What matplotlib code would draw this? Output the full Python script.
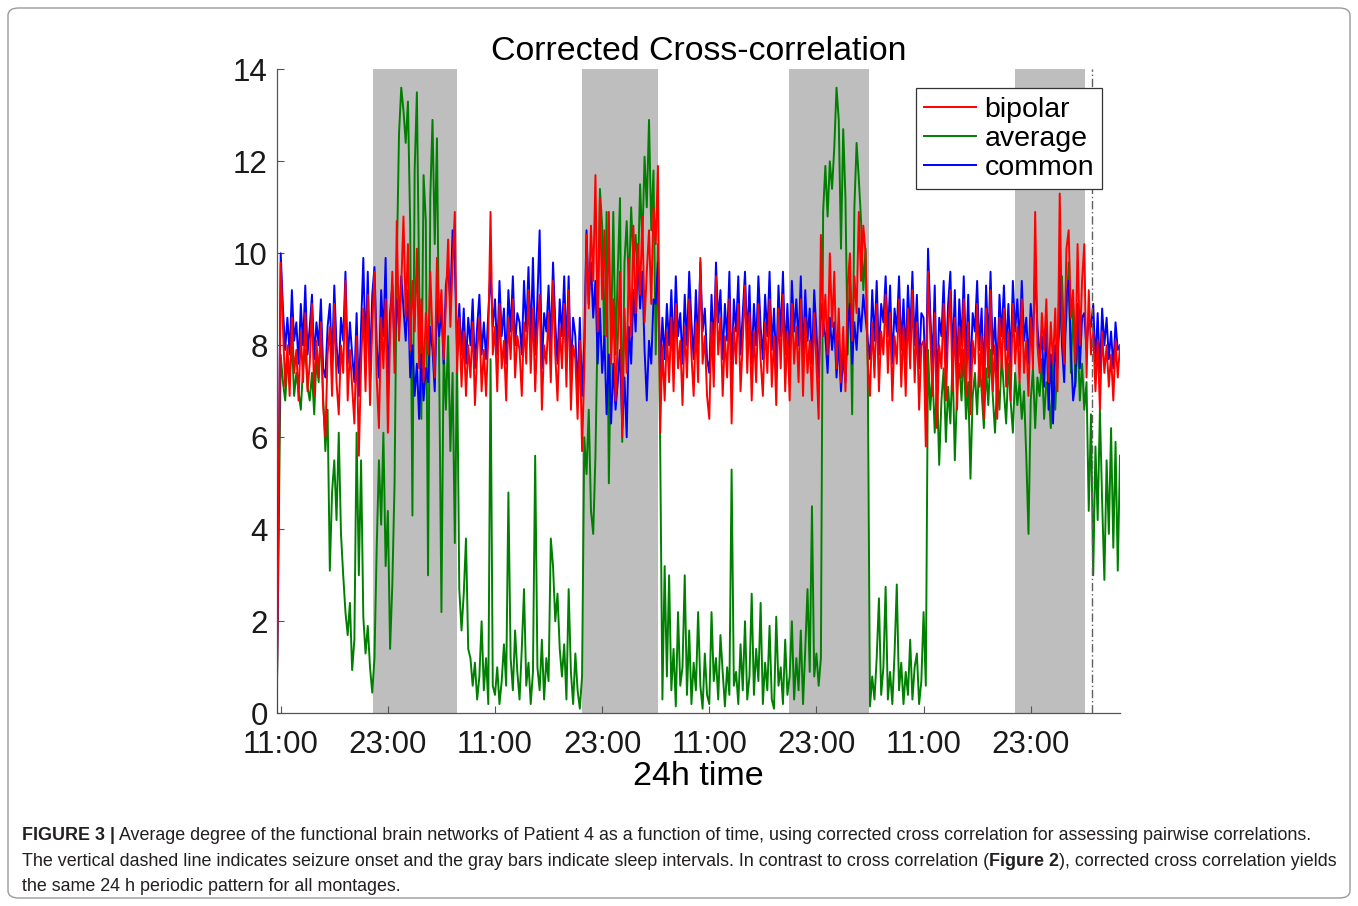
import numpy as np
import matplotlib
matplotlib.use("Agg")
import matplotlib.pyplot as plt
from matplotlib.patches import FancyBboxPatch
from matplotlib.lines import Line2D

plt.rcParams["font.family"] = ["Liberation Sans", "DejaVu Sans"]

# time in hours after 11:00 on day 1, one sample every 15 min
# (first sample sits just before 11:00)
hours = np.concatenate([[-0.45], np.arange(0, 94.01, 0.25)])

# values, 6 h per line
bipolar = [0.0,
    9.8, 8.4, 7.1, 8.0, 6.9, 8.6, 7.4, 7.9, 6.8, 8.3, 7.2, 8.7, 7.0, 7.6, 8.9, 6.9, 8.1, 7.3, 8.5, 6.7, 6.0, 7.8, 8.4, 6.9,
    8.9, 7.2, 6.5, 8.0, 7.4, 9.4, 6.8, 7.9, 7.1, 6.3, 8.2, 5.6, 7.6, 8.8, 7.0, 9.1, 6.7, 8.4, 9.6, 7.3, 6.2, 8.6, 7.5, 9.0,
    6.1, 8.2, 9.6, 7.4, 10.7, 8.1, 9.3, 10.8, 8.6, 10.2, 7.9, 9.4, 8.3, 10.1, 7.5, 9.0, 7.2, 8.7, 7.8, 9.6, 8.2, 7.3, 9.9, 8.5,
    9.2, 7.7, 8.9, 10.3, 8.4, 9.8, 10.9, 7.4, 8.6, 7.1, 8.3, 6.9, 8.0, 7.3, 8.5, 6.7, 7.8, 8.6, 7.0, 7.9, 6.9, 8.2, 10.9, 7.8,
    8.4, 7.0, 8.9, 7.5, 8.1, 6.8, 8.6, 7.7, 9.0, 7.3, 8.2, 7.9, 6.9, 8.5, 7.6, 9.2, 7.4, 8.8, 7.0, 8.3, 9.1, 6.6, 8.0, 7.6,
    8.7, 7.2, 9.4, 7.8, 6.8, 8.4, 7.5, 8.9, 7.1, 9.2, 6.6, 8.0, 7.7, 6.4, 8.1, 5.7, 7.5, 10.4, 8.8, 10.6, 9.4, 11.7, 8.3, 11.2,
    9.0, 10.5, 8.2, 10.9, 7.6, 9.0, 6.8, 8.1, 9.6, 6.0, 8.8, 7.4, 9.9, 8.2, 10.6, 8.7, 10.2, 9.1, 10.8, 8.5, 9.6, 10.5, 8.9, 11.0,
    10.2, 11.9, 6.1, 8.0, 6.8, 8.3, 7.2, 8.6, 7.0, 8.9, 7.5, 8.1, 6.7, 8.4, 7.3, 9.0, 7.8, 6.9, 8.5, 7.2, 9.9, 7.6, 8.2, 6.9,
    6.4, 8.5, 7.1, 9.5, 7.8, 8.6, 6.9, 8.2, 7.3, 9.0, 6.3, 8.4, 7.6, 8.9, 7.0, 8.1, 9.3, 7.4, 8.7, 6.8, 8.3, 7.2, 8.9, 7.7,
    6.9, 8.5, 7.4, 9.0, 7.1, 8.2, 6.7, 8.8, 7.5, 9.1, 7.0, 8.3, 6.8, 8.9, 7.6, 8.4, 7.2, 9.0, 6.9, 8.6, 7.4, 8.1, 6.8, 8.7,
    7.6, 6.4, 10.4, 8.2, 9.1, 7.8, 10.0, 8.4, 9.6, 7.5, 8.8, 7.2, 8.4, 7.0, 9.3, 10.0, 8.1, 9.5, 8.7, 10.9, 9.4, 10.6, 10.0, 7.6,
    6.9, 8.5, 7.3, 8.9, 7.0, 8.3, 7.8, 9.1, 7.4, 8.7, 6.8, 8.2, 7.6, 9.0, 7.1, 8.4, 6.9, 8.8, 7.5, 9.2, 7.2, 8.5, 6.6, 8.0,
    8.1, 5.8, 9.6, 8.2, 6.9, 8.7, 6.2, 8.0, 7.5, 8.9, 6.8, 8.3, 9.2, 7.0, 8.6, 6.6, 8.4, 7.3, 9.0, 6.9, 8.5, 6.5, 8.1, 7.6,
    8.9, 7.1, 8.2, 6.4, 8.8, 7.3, 9.2, 7.0, 8.0, 6.4, 8.6, 7.5, 8.8, 7.1, 8.3, 6.8, 8.9, 7.6, 8.4, 7.2, 9.0, 7.4, 8.1, 6.9,
    8.6, 7.5, 10.9, 8.0, 7.4, 8.7, 7.9, 9.0, 7.2, 8.5, 7.6, 8.8, 7.0, 11.3, 8.4, 7.6, 10.1, 10.5, 8.6, 9.2, 7.6, 10.2, 8.0, 9.4,
    10.2, 7.3, 9.2, 7.8, 8.3, 7.0, 8.1, 6.6, 8.3, 7.4, 8.0, 7.1, 7.8, 6.8, 8.1, 7.3, 8.0]

average = [0.0,
    7.8, 7.2, 6.8, 7.6, 7.3, 8.1, 6.9, 7.4, 7.0, 6.6, 7.5, 7.9, 7.1, 6.8, 7.4, 6.5, 7.7, 7.2, 8.3, 6.9, 5.7, 6.6, 3.1, 4.8,
    5.5, 4.2, 6.1, 3.9, 3.0, 2.2, 1.7, 2.4, 0.94, 1.6, 6.1, 3.0, 5.5, 2.1, 1.3, 1.9, 1.0, 0.45, 1.2, 3.6, 5.5, 4.1, 6.1, 3.2,
    4.4, 1.4, 2.8, 5.0, 9.8, 12.6, 13.6, 13.1, 12.4, 13.3, 10.6, 4.3, 11.8, 13.5, 9.4, 6.4, 11.7, 10.7, 3.0, 11.2, 12.9, 10.2, 12.5, 7.5,
    2.2, 7.9, 6.6, 8.2, 5.7, 7.4, 3.7, 7.8, 2.7, 1.8, 2.6, 3.8, 1.4, 1.2, 0.6, 1.1, 0.3, 0.8, 2.0, 0.5, 1.2, 0.2, 7.7, 0.6,
    0.4, 1.0, 0.2, 0.7, 1.5, 0.6, 4.8, 1.2, 0.5, 1.8, 0.9, 0.3, 1.4, 2.7, 0.6, 1.1, 0.2, 0.9, 5.6, 1.0, 0.5, 1.6, 0.3, 1.2,
    0.7, 3.8, 3.2, 2.0, 2.6, 1.4, 0.8, 1.5, 0.3, 2.7, 0.9, 0.2, 1.3, 0.5, 0.1, 0.8, 6.0, 5.2, 6.6, 4.4, 3.9, 5.6, 8.5, 11.4,
    10.6, 7.8, 10.9, 5.0, 8.1, 10.9, 7.8, 9.6, 11.2, 5.9, 9.8, 10.7, 9.2, 11.0, 9.8, 10.4, 9.4, 11.5, 10.2, 12.1, 11.0, 12.9, 10.5, 11.8,
    7.8, 10.2, 5.8, 0.3, 3.2, 0.8, 3.0, 0.5, 1.4, 0.15, 2.2, 0.6, 1.0, 3.0, 0.4, 1.8, 0.2, 1.1, 0.5, 2.2, 0.6, 0.1, 1.3, 0.4,
    0.2, 2.2, 0.7, 1.2, 0.3, 1.7, 0.9, 0.15, 1.0, 0.4, 5.3, 0.6, 0.9, 0.2, 1.5, 0.5, 2.0, 0.3, 0.8, 2.6, 0.4, 1.4, 0.7, 2.4,
    0.2, 1.1, 0.5, 1.9, 0.3, 0.1, 2.1, 0.6, 1.0, 0.2, 1.6, 0.4, 0.8, 2.0, 0.3, 1.2, 0.5, 1.8, 0.2, 1.4, 2.7, 0.9, 4.5, 0.8,
    1.3, 0.6, 1.2, 10.9, 11.9, 10.8, 12.0, 11.4, 12.3, 13.6, 12.9, 10.1, 12.7, 11.2, 7.8, 9.5, 6.5, 11.0, 12.4, 11.6, 10.7, 9.2, 10.1, 7.5,
    0.15, 0.8, 0.3, 1.2, 2.5, 0.4, 1.0, 2.75, 0.3, 0.9, 0.2, 1.3, 2.8, 0.5, 1.1, 0.2, 0.9, 0.4, 1.6, 0.3, 1.0, 1.3, 0.2, 0.7,
    2.2, 0.6, 7.9, 6.6, 7.4, 6.1, 7.2, 5.4, 6.8, 7.5, 5.9, 7.1, 6.3, 7.7, 5.5, 7.0, 7.6, 6.8, 7.9, 6.4, 7.2, 5.1, 6.9, 7.4,
    6.5, 7.8, 7.0, 6.2, 7.5, 6.7, 7.9, 6.9, 6.1, 7.3, 6.6, 7.8, 7.0, 6.3, 7.6, 6.8, 6.1, 7.4, 6.7, 7.2, 6.4, 7.0, 5.6, 3.9,
    6.8, 7.5, 6.2, 7.3, 6.9, 7.7, 6.4, 7.2, 7.0, 6.2, 7.6, 6.6, 7.8, 8.4, 9.5, 8.0, 8.6, 9.8, 7.4, 8.9, 7.1, 8.3, 6.8, 7.6,
    6.6, 7.2, 4.4, 6.5, 3.0, 5.8, 4.2, 6.6, 4.6, 2.9, 5.5, 3.9, 6.2, 3.6, 5.9, 3.1, 5.6]

common = [0.0,
    10.0, 8.8, 7.9, 8.6, 7.8, 9.2, 8.1, 8.5, 7.6, 8.9, 8.0, 9.3, 7.8, 8.4, 9.1, 7.7, 8.5, 8.0, 9.0, 7.5, 7.3, 8.4, 8.9, 7.6,
    9.3, 8.0, 7.4, 8.6, 8.1, 9.6, 7.6, 8.5, 7.8, 7.2, 8.7, 6.9, 8.4, 9.9, 7.8, 9.6, 7.5, 9.1, 9.7, 8.0, 7.3, 9.2, 8.2, 9.9,
    7.0, 8.7, 9.3, 7.9, 9.0, 8.4, 9.5, 8.8, 8.1, 9.2, 7.3, 8.0, 6.9, 7.6, 6.4, 7.8, 6.8, 7.5, 7.2, 8.4, 7.9, 7.0, 9.0, 8.2,
    8.8, 7.6, 9.3, 9.7, 8.9, 10.5, 9.8, 7.9, 8.9, 7.8, 8.8, 7.6, 8.6, 8.0, 9.0, 7.5, 8.4, 9.1, 7.8, 8.5, 7.7, 8.7, 9.6, 8.4,
    9.0, 7.8, 9.4, 8.2, 8.8, 7.6, 9.2, 8.3, 9.5, 8.0, 8.7, 8.5, 7.8, 9.4, 8.3, 9.7, 8.1, 9.9, 7.8, 9.0, 10.5, 7.5, 8.7, 8.3,
    9.3, 8.0, 9.8, 8.5, 7.6, 9.0, 8.2, 9.5, 7.9, 9.5, 7.4, 8.6, 8.2, 7.0, 8.6, 6.9, 8.1, 10.5, 8.9, 9.8, 8.6, 9.4, 7.6, 8.8,
    7.4, 8.2, 6.5, 7.8, 6.3, 7.6, 6.6, 7.2, 7.9, 6.2, 7.3, 6.0, 8.4, 7.6, 9.2, 8.3, 10.0, 8.8, 9.6, 7.9, 6.8, 8.1, 7.6, 9.0,
    8.9, 9.8, 7.4, 8.6, 7.7, 8.9, 8.0, 9.2, 7.8, 9.5, 8.2, 8.7, 7.6, 9.1, 8.0, 9.6, 8.5, 7.7, 9.2, 8.0, 9.8, 8.3, 8.8, 7.7,
    7.4, 9.1, 7.9, 9.8, 8.5, 9.2, 7.7, 8.9, 8.1, 9.6, 7.3, 9.0, 8.3, 9.5, 7.8, 8.7, 9.6, 8.1, 9.3, 7.6, 8.9, 8.0, 9.5, 8.4,
    7.7, 9.1, 8.2, 9.6, 7.9, 8.8, 7.5, 9.3, 8.2, 9.6, 7.8, 8.9, 7.6, 9.4, 8.3, 9.0, 8.0, 9.5, 7.7, 9.2, 8.1, 8.8, 7.6, 9.2,
    8.3, 7.3, 8.9, 8.5, 8.2, 7.4, 8.6, 7.9, 8.5, 7.3, 8.1, 7.0, 7.8, 7.2, 8.4, 8.9, 7.6, 8.5, 7.9, 8.8, 8.3, 9.1, 8.6, 8.1,
    7.7, 9.2, 8.1, 9.4, 7.8, 8.9, 8.5, 9.5, 8.2, 9.3, 7.6, 8.8, 8.3, 9.5, 7.9, 9.0, 7.7, 9.3, 8.2, 9.6, 8.0, 9.1, 7.5, 8.7,
    8.6, 7.0, 10.1, 8.7, 7.6, 9.3, 7.0, 8.6, 8.2, 9.4, 7.6, 8.9, 9.6, 7.7, 9.2, 7.4, 9.0, 8.0, 9.5, 7.7, 9.1, 7.3, 8.7, 8.3,
    9.4, 7.9, 8.8, 7.2, 9.3, 8.0, 9.6, 7.8, 8.6, 7.3, 9.1, 8.2, 9.3, 7.9, 8.9, 7.6, 9.4, 8.3, 9.0, 8.0, 9.4, 8.1, 8.6, 7.6,
    8.9, 8.1, 9.7, 8.4, 7.8, 8.2, 7.1, 8.5, 6.6, 7.8, 6.3, 8.0, 7.5, 9.8, 8.0, 7.2, 9.1, 9.4, 7.9, 6.8, 7.2, 8.9, 7.5, 8.6,
    8.7, 7.9, 8.6, 8.4, 8.9, 7.6, 8.7, 7.4, 8.8, 8.0, 8.6, 7.7, 8.3, 7.5, 8.5, 7.9, 8.0]

# sleep intervals (gray bars) and seizure onset, in hours
sleep_start = [10.37, 33.7, 56.9, 82.2]
sleep_end = [19.7, 42.3, 65.9, 90.1]
seizure_onset = 90.9

tick_hours = [0, 12, 24, 36, 48, 60, 72, 84]
tick_labels = ["11:00", "23:00", "11:00", "23:00", "11:00", "23:00", "11:00", "23:00"]

W, H = 1358, 906
fig = plt.figure(figsize=(W / 100, H / 100), dpi=100)

# rounded frame around the whole figure
frame = FancyBboxPatch((8 / W, 8 / H), 1342 / W, 890 / H,
                       boxstyle="round,pad=0,rounding_size=0.008",
                       transform=fig.transFigure, fill=False,
                       edgecolor="#9a9a9a", linewidth=1.0)
fig.patches.append(frame)

ax = fig.add_axes([276.7 / W, 1 - 713.3 / H, (1120 - 276.7) / W, (713.3 - 69.3) / H])

for s, e in zip(sleep_start, sleep_end):
    ax.axvspan(s, e, color="#bebebe", lw=0, zorder=0)

ax.plot(hours, average, color="#008000", lw=1.4, zorder=2)
ax.plot(hours, common, color="#0000ff", lw=1.4, zorder=3)
ax.plot(hours, bipolar, color="#ff0000", lw=1.4, zorder=4)
ax.axvline(seizure_onset, color="#606060", lw=1.0, ls=(0, (6, 2, 1, 2)), zorder=5)

ax.set_xlim(-0.45, 94.0)
ax.set_ylim(0, 14)
ax.set_xticks(tick_hours)
ax.set_xticklabels(tick_labels)
ax.set_yticks(range(0, 15, 2))

for side in ["top", "right"]:
    ax.spines[side].set_visible(False)
for side in ["left", "bottom"]:
    ax.spines[side].set_color("#555555")
    ax.spines[side].set_linewidth(0.9)

ax.tick_params(direction="in", length=5, width=0.8, color="#555555",
               labelsize=22.5, labelcolor="#1a1a1a")
ax.tick_params(axis="x", pad=12)
ax.tick_params(axis="y", pad=6.5)

ax.set_title("Corrected Cross-correlation", fontsize=24.4, pad=7)
ax.set_xlabel("24h time", fontsize=24.5, labelpad=1)

handles = [Line2D([], [], color="#ff0000", lw=1.4),
           Line2D([], [], color="#008000", lw=1.4),
           Line2D([], [], color="#0000ff", lw=1.4)]
leg = ax.legend(handles, ["bipolar", "average", "common"],
                loc="upper left", bbox_to_anchor=(0.758, 0.9705),
                fontsize=20.5, frameon=True, fancybox=False, framealpha=1,
                edgecolor="#333333", borderpad=0.3, borderaxespad=0,
                handlelength=1.8, handletextpad=0.3, labelspacing=0.1)
leg.get_frame().set_linewidth(0.9)

# caption with bold runs
renderer = fig.canvas.get_renderer()
cap_size = 12.9
cap_color = "#231f20"
lines = [
    [("FIGURE 3 |", "bold"),
     (" Average degree of the functional brain networks of Patient 4 as a function of time, "
      "using corrected cross correlation for assessing pairwise correlations.", "normal")],
    [("The vertical dashed line indicates seizure onset and the gray bars indicate sleep intervals. "
      "In contrast to cross correlation (", "normal"),
     ("Figure 2", "bold"),
     ("), corrected cross correlation yields", "normal")],
    [("the same 24 h periodic pattern for all montages.", "normal")],
]
baselines = [840, 866, 891]
for runs, yb in zip(lines, baselines):
    x = 22
    for txt, weight in runs:
        t = fig.text(x / W, 1 - yb / H, txt, fontsize=cap_size, fontweight=weight,
                     color=cap_color, va="baseline", ha="left")
        x += t.get_window_extent(renderer).width

fig.savefig("out.png", dpi=100)
